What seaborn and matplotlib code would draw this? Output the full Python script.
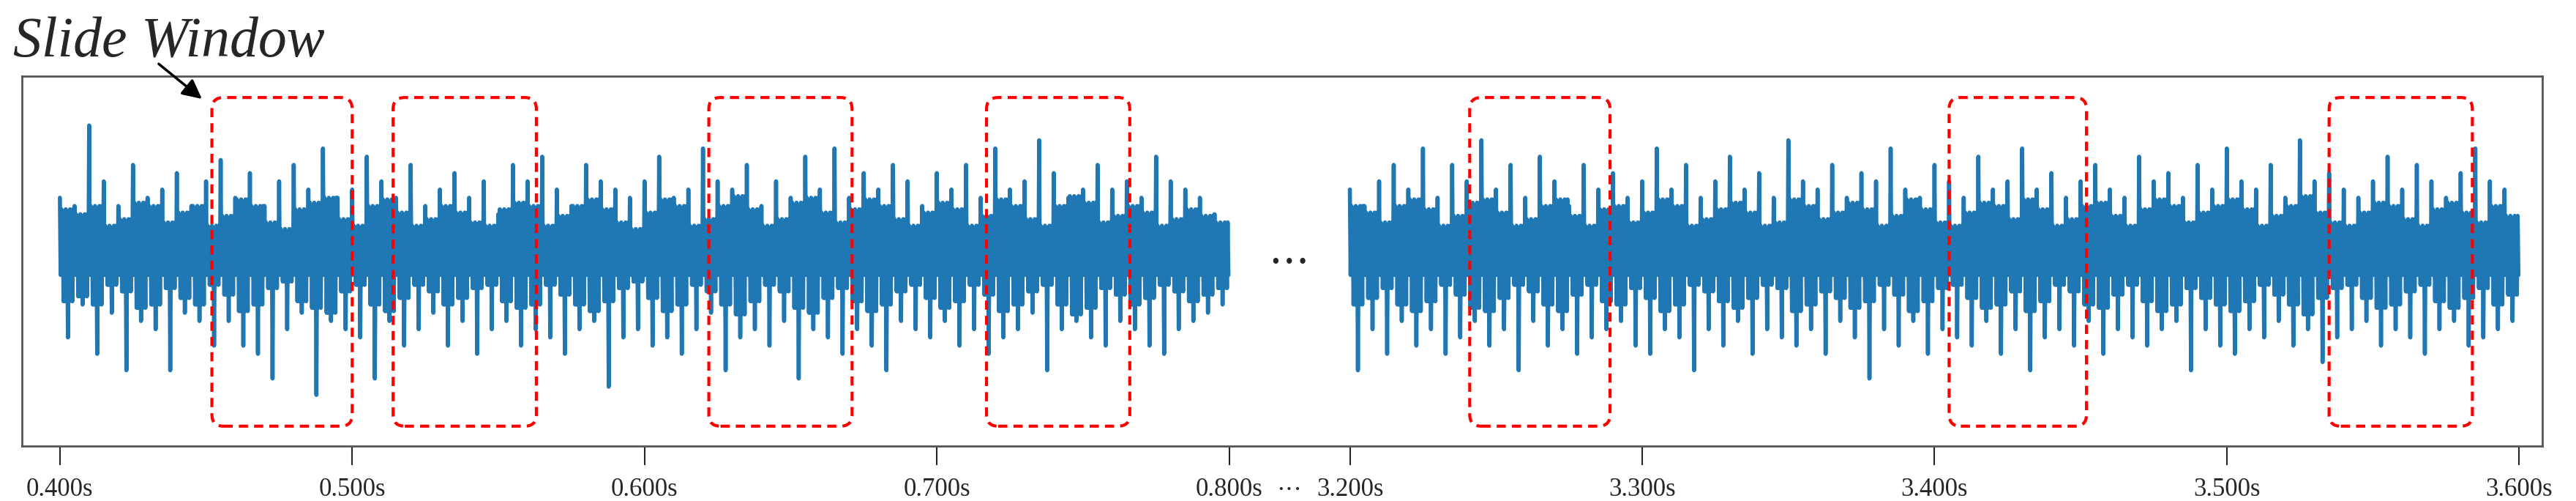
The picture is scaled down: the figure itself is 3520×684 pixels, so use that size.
import numpy as np
import matplotlib
matplotlib.use("Agg")
import matplotlib.pyplot as plt
import seaborn as sns
from matplotlib.patches import FancyBboxPatch

# envelope amplitudes (pixel-like units), one sample every 5 ms
step = 0.005
left_start, right_start = 0.400, 3.200
core = 12

left_upper = [35, 30, 79, 45, 30, 55, 35, 40, 50, 30, 45, 58, 35, 50, 30, 45, 55, 40, 65, 35,
              40, 60, 45, 35, 55, 30, 40, 50, 35, 45, 25, 55, 45, 60, 40, 30, 55, 45, 40, 35,
              45, 60, 35, 40, 65, 45, 40, 55, 30, 45, 35, 60, 40, 65, 35, 50, 40, 55, 45, 30,
              50, 40, 55, 35, 65, 40, 45, 70, 50, 35, 40, 55, 40, 45, 35, 60, 45, 40, 35, 25]
left_lower = [50, 30, 60, 35, 70, 40, 45, 70, 35, 40, 55, 40, 55, 60, 75, 45, 35, 85, 40, 45,
              50, 75, 40, 55, 45, 35, 55, 40, 60, 45, 40, 55, 45, 50, 60, 45, 40, 80, 50, 45,
              55, 50, 60, 45, 35, 70, 50, 45, 55, 40, 75, 45, 50, 60, 45, 55, 70, 40, 45, 50,
              40, 55, 45, 60, 50, 45, 35, 70, 45, 40, 50, 55, 40, 45, 55, 60, 45, 40, 35, 30]
left_mid = [28, 25, 30, 18, 22, 32, 30, 20, 26, 30, 18, 24, 34, 30, 20, 16, 28, 32, 35, 22,
            18, 30, 34, 26, 18, 22, 30, 26, 20, 18, 28, 32, 30, 18, 24, 30, 34, 28, 20, 16,
            26, 34, 30, 18, 22, 30, 36, 28, 18, 22, 32, 35, 26, 20, 28, 34, 30, 22, 18, 26,
            32, 28, 18, 24, 34, 30, 22, 18, 30, 36, 32, 20, 24, 30, 26, 18, 22, 28, 24, 20]
right_upper = [40, 30, 45, 55, 40, 65, 35, 55, 45, 70, 40, 55, 35, 60, 45, 30, 55, 40, 50, 35,
               45, 65, 40, 55, 35, 45, 60, 40, 50, 35, 70, 45, 40, 55, 35, 50, 45, 65, 40, 35,
               55, 45, 35, 60, 40, 45, 65, 40, 50, 35, 45, 55, 40, 35, 60, 45, 50, 35, 55, 40,
               65, 45, 40, 55, 35, 70, 45, 50, 40, 35, 45, 60, 40, 55, 45, 35, 50, 65, 45, 40]
right_lower = [70, 45, 60, 40, 55, 45, 60, 50, 40, 55, 45, 70, 40, 55, 45, 60, 50, 45, 40, 55,
               60, 45, 50, 70, 45, 55, 40, 60, 45, 50, 55, 45, 60, 40, 50, 75, 45, 55, 40, 60,
               45, 50, 55, 40, 60, 45, 70, 50, 45, 55, 40, 60, 45, 50, 55, 45, 40, 70, 45, 55,
               60, 45, 50, 40, 55, 45, 65, 50, 45, 40, 55, 45, 50, 60, 45, 40, 55, 50, 45, 40]
right_mid = [30, 26, 20, 30, 34, 28, 18, 24, 32, 34, 26, 18, 22, 30, 34, 24, 18, 28, 30, 20,
             26, 34, 30, 18, 22, 28, 32, 26, 18, 20, 34, 30, 22, 26, 32, 28, 18, 24, 34, 28,
             20, 18, 26, 32, 30, 22, 34, 28, 18, 22, 30, 32, 24, 18, 28, 34, 30, 20, 26, 30,
             34, 28, 18, 24, 30, 36, 26, 20, 18, 26, 32, 30, 22, 18, 28, 32, 26, 20, 30, 24]

windows = [(0.452, 0.500), (0.514, 0.563), (0.622, 0.671), (0.717, 0.766),
           (3.241, 3.289), (3.405, 3.452), (3.535, 3.584)]
left_ticks = [0.4, 0.5, 0.6, 0.7, 0.8]
right_ticks = [3.2, 3.3, 3.4, 3.5, 3.6]

gap = 0.0413  # visual gap between the two segments (axis units)


def to_axis(t):
    t = np.asarray(t, dtype=float)
    return np.where(t >= 3.0, t - 3.2 + 0.8 + gap, t)


def build(start, upper, lower, mid):
    xs, ys = [], []
    for i, (u, l, m) in enumerate(zip(upper, lower, mid)):
        t0 = start + i * step
        c = core
        seq = [u, -c, m, -c, c, -m, c, -m, m, -c, c, -l, c, -m, m, -c, c, -m, m, -c]
        for k, v in enumerate(seq):
            xs.append(t0 + k * step / len(seq))
            ys.append(v)
    return np.array(xs), np.array(ys)


sns.set_style("white")
plt.rcParams["font.family"] = ["Liberation Serif", "DejaVu Serif"]

fig = plt.figure(figsize=(35.2, 6.84), dpi=100)
ax = fig.add_axes([0.0085, 0.110, 0.9785, 0.738])

segments = [(left_start, left_upper, left_lower, left_mid),
            (right_start, right_upper, right_lower, right_mid)]
for start, up, lo, mid in segments:
    xs, ys = build(start, up, lo, mid)
    sns.lineplot(x=to_axis(xs), y=ys, ax=ax, color="#1f77b4", lw=4, estimator=None, sort=False)

for a, b in windows:
    xa, xb = float(to_axis(a)), float(to_axis(b))
    ax.add_patch(FancyBboxPatch((xa, -104), xb - xa, 200,
                                boxstyle="round,pad=0,rounding_size=0.004",
                                mutation_aspect=1750, fill=False, ec="red",
                                ls=(0, (3, 2)), lw=3, zorder=3))

ax.text(0.8 + gap / 2, -5, "• • •", ha="center", va="center", fontsize=22)

ticks = list(to_axis(left_ticks)) + list(to_axis(right_ticks))
labels = [f"{t:.3f}s" for t in left_ticks + right_ticks]
ax.set_xticks(ticks)
ax.set_xticklabels(labels, fontsize=25)
ax.text(0.8 + gap / 2, -0.09, "···", transform=ax.get_xaxis_transform(), ha="center", va="top", fontsize=25)
ax.tick_params(axis="x", length=19, width=1.5, pad=12, bottom=True)
ax.set_yticks([])
ax.set_xlim(0.387, 1.2493)
ax.set_ylim(-116, 109)
for s in ax.spines.values():
    s.set_color("#555555")
    s.set_linewidth(2)

fig.text(0.005, 0.886, "Slide Window", fontsize=56, style="italic", ha="left", va="baseline")
fig.add_artist(matplotlib.patches.FancyArrowPatch((0.061, 0.875), (0.079, 0.80),
                                                  transform=fig.transFigure, arrowstyle="-|>",
                                                  mutation_scale=40, lw=2.5, color="black"))

fig.savefig("out.png", dpi=100)
